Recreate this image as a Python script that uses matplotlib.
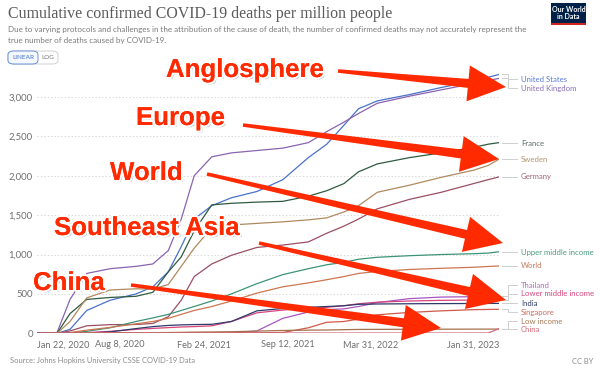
import matplotlib
matplotlib.use('Agg')
import matplotlib.pyplot as plt
import matplotlib.dates as mdates
import matplotlib.patheffects as pe
from matplotlib.patches import Polygon, Rectangle, FancyBboxPatch
from matplotlib.lines import Line2D
import numpy as np
import pandas as pd

# ---------------- data ----------------
dates = pd.to_datetime([
    "2020-01-22", "2020-03-10", "2020-04-10", "2020-05-20", "2020-07-15",
    "2020-09-15", "2020-10-25", "2020-12-01", "2021-01-01", "2021-02-01",
    "2021-03-15", "2021-05-01", "2021-07-01", "2021-09-01", "2021-11-01",
    "2021-12-15", "2022-01-25", "2022-03-01", "2022-04-15", "2022-07-01",
    "2022-09-15", "2022-12-01", "2023-01-05", "2023-01-31"])

united_states = [0, 0, 50, 290, 420, 500, 590, 780, 1100, 1450, 1620, 1720, 1800, 1950,
                 2230, 2400, 2640, 2850, 2950, 3030, 3120, 3200, 3250, 3285]
united_kingdom = [0, 10, 430, 760, 820, 850, 880, 1050, 1450, 2000, 2240, 2290, 2320, 2350,
                  2420, 2560, 2680, 2790, 2920, 3010, 3090, 3170, 3210, 3235]
france = [0, 0, 250, 430, 455, 470, 520, 780, 970, 1300, 1630, 1650, 1665, 1675,
          1740, 1810, 1900, 2050, 2150, 2230, 2290, 2360, 2400, 2420]
sweden = [0, 0, 150, 450, 550, 565, 560, 620, 850, 1080, 1340, 1375, 1395, 1415,
          1440, 1465, 1540, 1620, 1790, 1880, 1980, 2070, 2130, 2210]
germany = [0, 0, 30, 95, 110, 112, 125, 210, 420, 720, 880, 990, 1090, 1120,
           1160, 1270, 1360, 1450, 1580, 1700, 1790, 1900, 1950, 1985]
upper_middle_income = [0, 0, 5, 25, 70, 150, 195, 240, 290, 340, 410, 500, 630, 745,
                       820, 870, 900, 940, 965, 985, 1000, 1010, 1018, 1035]
world = [0, 0, 10, 40, 75, 120, 150, 190, 240, 290, 340, 410, 510, 590,
         640, 680, 720, 760, 785, 810, 825, 838, 848, 855]
thailand = [0, 0, 0.5, 0.8, 0.8, 0.8, 0.9, 0.9, 1, 1.2, 1.3, 2, 30, 190,
            270, 300, 310, 340, 390, 440, 460, 465, 466, 468]
lower_middle_income = [0, 0, 2, 8, 25, 50, 62, 72, 80, 85, 95, 150, 260, 295,
                       320, 330, 350, 375, 395, 410, 418, 422, 424, 425]
india = [0, 0, 0.3, 3, 18, 60, 85, 100, 107, 111, 114, 150, 285, 315,
         330, 340, 350, 368, 372, 375, 377, 378, 379, 380]
singapore = [0, 0, 2, 3, 5, 5, 5, 5, 5, 5, 5, 6, 6, 10,
             70, 140, 150, 180, 235, 265, 285, 300, 303, 305]
low_income = [0, 0, 0.3, 1, 3, 6, 8, 10, 12, 15, 17, 20, 28, 36,
              40, 42, 46, 49, 50, 51, 52, 53, 53, 54]
china = [0, 2.2, 2.3, 3.2, 3.3, 3.3, 3.3, 3.3, 3.3, 3.4, 3.4, 3.4, 3.5, 3.5,
         3.5, 3.5, 3.5, 3.5, 3.6, 3.6, 3.7, 3.7, 4, 58]

series_names = ["United States", "United Kingdom", "France", "Sweden", "Germany",
                "Upper middle income", "World", "Thailand", "Lower middle income",
                "India", "Singapore", "Low income", "China"]
series_values = [united_states, united_kingdom, france, sweden, germany,
                 upper_middle_income, world, thailand, lower_middle_income,
                 india, singapore, low_income, china]
series_colors = ["#4a72c9", "#8a64b0", "#2f5a40", "#b08a5f", "#9a4f62",
                 "#3c9478", "#cc7651", "#a957c0", "#d7457d",
                 "#2d3b6b", "#cf5a4c", "#a5704d", "#d4697c"]
label_colors = ["#5b7bd6", "#8a6fb8", "#5a6b5f", "#b3946f", "#a0687a",
                "#4b9a80", "#c9785a", "#b06ac0", "#d4467a",
                "#2b3a63", "#d06b5f", "#a57755", "#d46a78"]
label_y_px = [79, 88, 143, 159, 177, 252, 266, 285, 294, 303, 312, 321, 329]

ytick_values = [0, 500, 1000, 1500, 2000, 2500, 3000]
ytick_labels = ["0", "500", "1,000", "1,500", "2,000", "2,500", "3,000"]
xtick_dates = pd.to_datetime(["2020-01-22", "2020-08-08", "2021-02-24",
                              "2021-09-12", "2022-03-31", "2023-01-31"])
xtick_labels = ["Jan 22, 2020", "Aug 8, 2020", "Feb 24, 2021",
                "Sep 12, 2021", "Mar 31, 2022", "Jan 31, 2023"]

annotations = ["Anglosphere", "Europe", "World", "Southeast Asia", "China"]

# ---------------- figure ----------------
W, H = 600, 370
fig = plt.figure(figsize=(6, 3.7), dpi=100)
fig.patch.set_facecolor("white")

def fx(x):
    return x / W

def fy(y):
    return 1 - y / H

LATO = ["Lato", "DejaVu Sans"]

x0, x1 = 37, 499
y_zero, y_top = 333.3, 73.3
ax = fig.add_axes([fx(x0), fy(y_zero), (x1 - x0) / W, (y_zero - y_top) / H])
ax.set_facecolor("white")

for vals, col in zip(series_values, series_colors):
    ax.plot(dates, vals, color=col, lw=0.9, solid_joinstyle="round", zorder=3)

ax.set_xlim(mdates.date2num(dates[0]), mdates.date2num(dates[-1]))
ax.set_ylim(0, 3300)
ax.set_yticks(ytick_values)
ax.set_yticklabels(ytick_labels, fontfamily=LATO, fontsize=6.8, color="#6e6e6e")
ax.set_xticks(mdates.date2num(xtick_dates))
ax.set_xticklabels(xtick_labels, fontfamily=LATO, fontsize=6.6, color="#6e6e6e")
xl = ax.get_xticklabels()
xl[0].set_horizontalalignment("left")
xl[-1].set_horizontalalignment("right")
ax.tick_params(axis="y", length=0, pad=3)
ax.tick_params(axis="x", length=0, pad=5)
for s in ax.spines.values():
    s.set_visible(False)
ax.grid(axis="y", linestyle=(0, (1.5, 2)), color="#d9d9d9", lw=0.7, zorder=0)
ax.grid(axis="x", visible=False)

# ---------------- end labels with connectors ----------------
fig.canvas.draw()
end_x = mdates.date2num(dates[-1])
for name, vals, lcol, ly in zip(series_names, series_values, label_colors, label_y_px):
    dx, dy = ax.transData.transform((end_x, vals[-1]))
    ye = H - dy
    xs = [dx + 3, 508, 508, 517]
    ys = [ye, ye, ly, ly]
    fig.add_artist(Line2D([fx(v) for v in xs], [fy(v) for v in ys],
                          transform=fig.transFigure, color="#cfcfcf", lw=0.7))
    fig.text(fx(521), fy(ly), name, fontfamily=LATO, fontsize=5.6, color=lcol,
             ha="left", va="center")

# ---------------- header ----------------
fig.text(fx(8), fy(18), "Cumulative confirmed COVID-19 deaths per million people",
         fontfamily=["Liberation Serif", "DejaVu Serif"], fontsize=11.4, color="#5b5b5b",
         ha="left", va="baseline")
fig.text(fx(8), fy(29), "Due to varying protocols and challenges in the attribution of the cause of death, "
         "the number of confirmed deaths may not accurately represent the",
         fontfamily=LATO, fontsize=5.75, color="#7a7a7a", ha="left", va="center")
fig.text(fx(8), fy(40), "true number of deaths caused by COVID-19.",
         fontfamily=LATO, fontsize=5.75, color="#7a7a7a", ha="left", va="center")

# LINEAR / LOG toggle
fig.add_artist(FancyBboxPatch((fx(8), fy(64)), fx(50), 13 / H,
                              boxstyle="round,pad=0,rounding_size=0.01",
                              transform=fig.transFigure, fc="white", ec="#d0d0d0", lw=0.7))
fig.add_artist(FancyBboxPatch((fx(8), fy(64)), fx(30), 13 / H,
                              boxstyle="round,pad=0,rounding_size=0.01",
                              transform=fig.transFigure, fc="#f4f8fd", ec="#6b93d6", lw=0.7))
fig.text(fx(23), fy(57.5), "LINEAR", fontfamily=LATO, fontsize=4.6, color="#3d6ec9",
         ha="center", va="center")
fig.text(fx(48), fy(57.5), "LOG", fontfamily=LATO, fontsize=4.6, color="#777777",
         ha="center", va="center")

# OWID logo
fig.add_artist(Rectangle((fx(551), fy(25)), 35 / W, 22 / H, transform=fig.transFigure,
                         fc="#002147", ec="none"))
fig.add_artist(Rectangle((fx(551), fy(25)), 35 / W, 2 / H, transform=fig.transFigure,
                         fc="#ce261e", ec="none"))
fig.text(fx(568.5), fy(13), "Our World\nin Data", fontfamily=LATO, fontsize=5.0,
         fontweight="bold", color="white", ha="center", va="center", linespacing=0.95)

# footer
fig.text(fx(10), fy(361), "Source: Johns Hopkins University CSSE COVID-19 Data",
         fontfamily=LATO, fontsize=5.4, color="#8a8a8a", ha="left", va="center")
fig.text(fx(593), fy(361), "CC BY", fontfamily=LATO, fontsize=5.4, color="#8a8a8a",
         ha="right", va="center")

# ---------------- red annotation arrows ----------------
RED = "#ff2a00"

def arrow(tail, tip, w0=3.5, w1=9.0, hw=36.0, hl=38.0):
    t = np.array(tail, float)
    p = np.array(tip, float)
    u = (p - t) / np.linalg.norm(p - t)
    n = np.array([-u[1], u[0]])
    neck = p - u * hl
    pts = [t + n * w0 / 2, neck + n * w1 / 2, neck + n * hw / 2, p,
           neck - n * hw / 2, neck - n * w1 / 2, t - n * w0 / 2]
    poly = Polygon([(fx(a), fy(b)) for a, b in pts], closed=True,
                   transform=fig.transFigure, fc=RED, ec="none", zorder=10)
    fig.add_artist(poly)

arrow((338, 71), (506, 87))
arrow((243, 125), (499, 159))
arrow((207, 174), (503, 243))
arrow((259, 243), (506, 300))
arrow((131, 285), (441, 328))

text_pos = [(166, 77), (136, 125), (110, 180), (54, 235), (33, 290)]
effects = [pe.SimplePatchShadow(offset=(1.5, -1.5), shadow_rgbFace="#555555", alpha=0.35),
           pe.withStroke(linewidth=3, foreground="white"), pe.Normal()]
for txt, (tx, ty) in zip(annotations, text_pos):
    fig.text(fx(tx), fy(ty), txt, fontfamily=["Liberation Sans", "DejaVu Sans"],
             fontweight="bold", fontsize=18.6, color=RED, ha="left", va="baseline",
             path_effects=effects, zorder=11)

fig.savefig("out.png", dpi=100, facecolor="white")
